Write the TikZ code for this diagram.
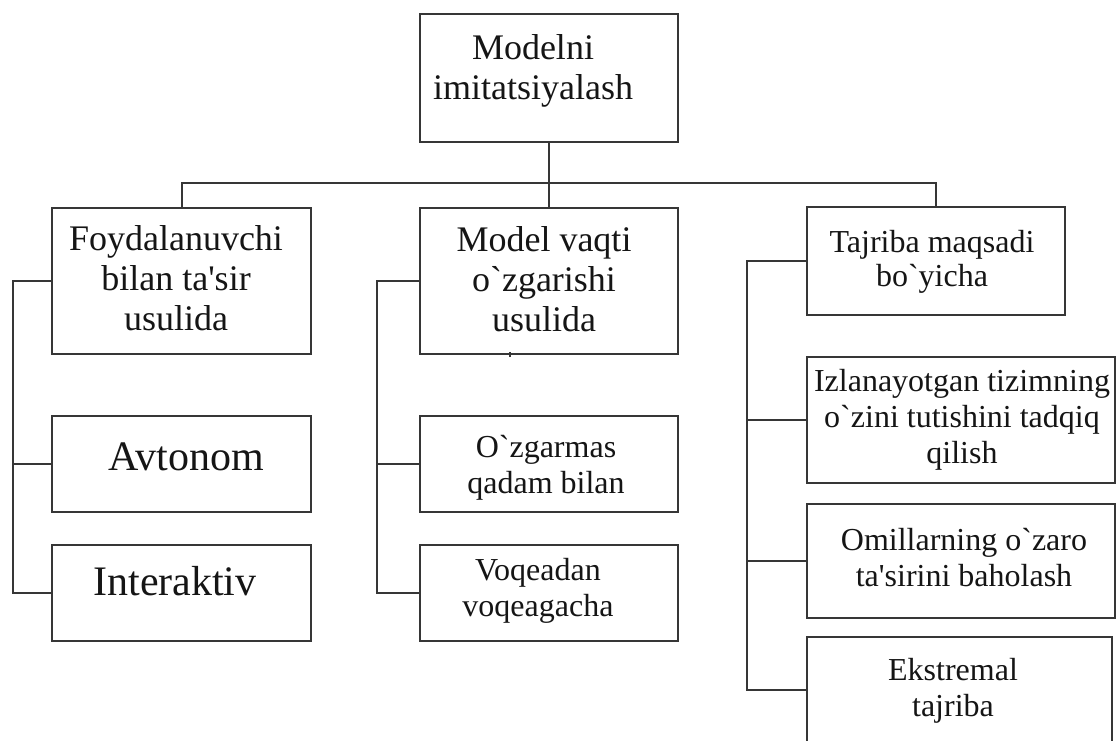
\documentclass[tikz,border=0pt]{standalone}
\usepackage{fontspec}
\setmainfont{Liberation Serif}
\newcommand\grv{\textasciigrave}
\newcommand\apo{\textquotesingle}
\definecolor{linec}{HTML}{363636}
\definecolor{txtc}{HTML}{151515}
\begin{document}
\begin{tikzpicture}[x=1pt,y=-1pt,
  box/.style={draw=linec, line width=2pt, rectangle, inner sep=0pt, anchor=center},
  wire/.style={draw=linec, line width=2pt},
  lbl/.style={anchor=north, inner sep=0pt, align=center, text=txtc},
  fbig/.style={font=\fontsize{36}{40}\selectfont},
  fhuge/.style={font=\fontsize{42}{46}\selectfont},
  fsmall/.style={font=\fontsize{32}{36}\selectfont}]
\useasboundingbox[fill=white] (0,0) rectangle (1117,740);

% boxes
\node[box, minimum width=258pt, minimum height=128pt] (root)  at (549,78)    {};
\node[box, minimum width=259pt, minimum height=146pt] (foy)   at (181.5,281) {};
\node[box, minimum width=259pt, minimum height=96pt]  (avt)   at (181.5,464) {};
\node[box, minimum width=259pt, minimum height=96pt]  (inter) at (181.5,593) {};
\node[box, minimum width=258pt, minimum height=146pt] (mvq)   at (549,281)   {};
\node[box, minimum width=258pt, minimum height=96pt]  (ozg)   at (549,464)   {};
\node[box, minimum width=258pt, minimum height=96pt]  (voq)   at (549,593)   {};
\node[box, minimum width=258pt, minimum height=108pt] (taj)   at (936,261)   {};
\node[box, minimum width=308pt, minimum height=126pt] (izl)   at (961,420)   {};
\node[box, minimum width=308pt, minimum height=114pt] (omi)   at (961,561)   {};
\node[box, minimum width=305pt, minimum height=106pt] (eks)   at (959.5,690) {};

% labels
\node[lbl, fbig]  (rootT)  at (533,31)    {\strut Modelni\\imitatsiyalash};
\node[lbl, fbig]  (foyT)   at (176,222)   {\strut Foydalanuvchi\\bilan ta\apo sir\\usulida};
\node[lbl, fhuge] (avtT)   at (186.5,437.8) {\strut Avtonom};
\node[lbl, fhuge] (interT) at (175,562.8) {\strut Interaktiv};
\node[lbl, fbig]  (mvqT)   at (544,223)   {\strut Model vaqti\\o\grv zgarishi\\usulida};
\node[lbl, fsmall] (ozgT)  at (546,431.8) {\strut O\grv zgarmas\\qadam bilan};
\node[lbl, fsmall] (voqT)  at (538,554.8) {\strut Voqeadan\\voqeagacha};
\node[lbl, fsmall, font=\fontsize{32}{34}\selectfont] (tajT) at (932,228) {\strut Tajriba maqsadi\\bo\grv yicha};
\node[lbl, fsmall] (izlT)  at (962,365.8) {\strut Izlanayotgan tizimning\\o\grv zini tutishini tadqiq\\qilish};
\node[lbl, fsmall] (omiT)  at (964,524.8) {\strut Omillarning o\grv zaro\\ta\apo sirini baholash};
\node[lbl, fsmall] (eksT)  at (953,654.8) {\strut Ekstremal\\tajriba};

% bus under the root
\coordinate (bus) at (0,183);
\draw[wire] (root.south) -- (mvq.north);
\draw[wire] (foy.north) -- (foy.north |- bus) -- (taj.north |- bus) -- (taj.north);

% left bracket
\coordinate (lx) at (13,0);
\draw[wire] (foy.west) -- (foy.west -| lx) -- (inter.west -| lx) -- (inter.west);
\draw[wire] (avt.west) -- (avt.west -| lx);

% middle bracket
\coordinate (mx) at (377,0);
\draw[wire] (mvq.west) -- (mvq.west -| mx) -- (voq.west -| mx) -- (voq.west);
\draw[wire] (ozg.west) -- (ozg.west -| mx);

% right bracket
\coordinate (rx) at (747,0);
\draw[wire] (taj.west) -- (taj.west -| rx) -- (eks.west -| rx) -- (eks.west);
\draw[wire] (izl.west) -- (izl.west -| rx);
\draw[wire] (omi.west) -- (omi.west -| rx);

% small tick on the lower edge of the middle box
\draw[wire, line width=1.2pt] (mvq.south) ++(-39,2) -- ++(0,-5);
\end{tikzpicture}
\end{document}
